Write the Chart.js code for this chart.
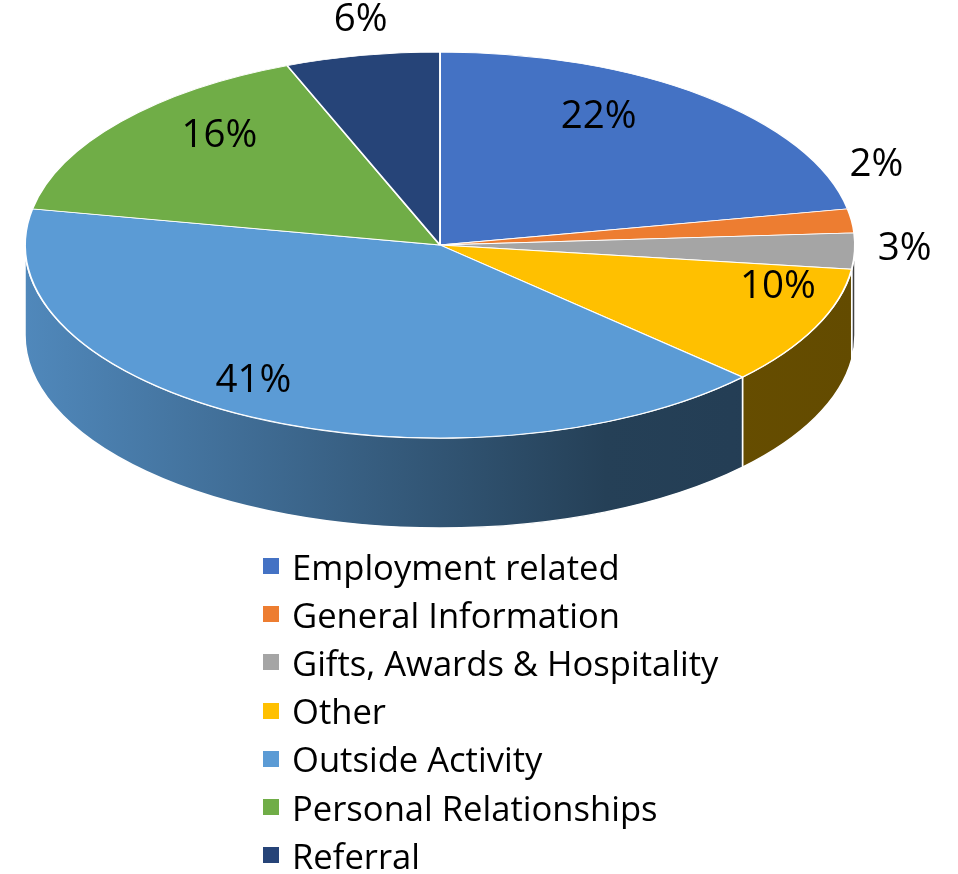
<!DOCTYPE html>
<html>
<head>
<meta charset="utf-8">
<script src="https://cdn.jsdelivr.net/npm/chart.js@4/dist/chart.umd.min.js"></script>
<style>
  html, body { margin: 0; padding: 0; background: #fff; }
  #wrap { position: relative; width: 958px; height: 874px; overflow: hidden; }
  #ch_pie { position: absolute; left: 0; top: 0; }
  #legend { position: absolute; left: 263px; top: 542px; }
  .item { display: flex; align-items: center; height: 48.2px; font: 34.6px 'Open Sans', sans-serif; color: #000; white-space: nowrap; }
  .box { width: 16px; height: 16px; margin-right: 13px; flex: none; }
</style>
</head>
<body>
<div id="wrap">
  <canvas id="ch_pie" width="958" height="874"></canvas>
  <div id="legend"></div>
</div>
<script>
/* data */
const labels = ['Employment related', 'General Information', 'Gifts, Awards & Hospitality', 'Other',
                'Outside Activity', 'Personal Relationships', 'Referral'];
const shares = [22, 2, 3, 10, 41, 16, 6];
const colors = ['#4472C4', '#ED7D31', '#A5A5A5', '#FFC000', '#5B9BD5', '#70AD47', '#264478'];

/* label placement (radius factor along the slice middle, vertical lift in px) */
const labelRadius = [0.6, 1.06, 1.12, 0.9, 0.99, 0.69, 1.02];
const labelLift   = [-39, -54, -3, -32, -34, -24, -32];

/* tilted-pie geometry */
const CX = 440, CY = 245, RX = 415, RY = 193, DEPTH = 90;

function shade(hex, k) {
  const n = parseInt(hex.slice(1), 16);
  const r = Math.round(((n >> 16) & 255) * k);
  const g = Math.round(((n >> 8) & 255) * k);
  const b = Math.round((n & 255) * k);
  return `rgb(${r},${g},${b})`;
}

// draws the extruded side, then squashes the library's own arcs into an ellipse
const pie3d = {
  id: 'pie3d',
  beforeDatasetsDraw(chart) {
    const ctx = chart.ctx;
    const arcs = chart.getDatasetMeta(0).data;
    arcs.forEach((arc, i) => {
      const a0 = Math.max(arc.startAngle, 0), a1 = Math.min(arc.endAngle, Math.PI);
      if (a1 <= a0) return;
      const g = ctx.createLinearGradient(CX - RX, 0, CX + RX, 0);
      g.addColorStop(0, shade(colors[i], 0.88));
      g.addColorStop(0.7, shade(colors[i], 0.41));
      g.addColorStop(1, shade(colors[i], 0.39));
      ctx.beginPath();
      ctx.ellipse(CX, CY, RX, RY, 0, a0, a1);
      ctx.ellipse(CX, CY + DEPTH, RX, RY, 0, a1, a0, true);
      ctx.closePath();
      ctx.fillStyle = g;
      ctx.fill();
      ctx.strokeStyle = '#fff';
      ctx.lineWidth = 1.5;
      ctx.stroke();
    });
    const a = arcs[0];
    ctx.save();
    ctx.translate(CX, CY);
    ctx.scale(RX / a.outerRadius, RY / a.outerRadius);
    ctx.translate(-a.x, -a.y);
  },
  afterDatasetsDraw(chart) {
    const ctx = chart.ctx;
    ctx.restore();
    const arcs = chart.getDatasetMeta(0).data;
    const total = shares.reduce((s, v) => s + v, 0);
    ctx.save();
    ctx.font = '38.5px "Open Sans", sans-serif';
    ctx.fillStyle = '#000';
    ctx.textAlign = 'center';
    ctx.textBaseline = 'middle';
    arcs.forEach((arc, i) => {
      const mid = (arc.startAngle + arc.endAngle) / 2;
      const x = CX + RX * labelRadius[i] * Math.cos(mid);
      const y = CY + RY * labelRadius[i] * Math.sin(mid) + labelLift[i];
      ctx.fillText(Math.round(shares[i] / total * 100) + '%', x, y);
    });
    ctx.restore();
  }
};

new Chart(document.getElementById('ch_pie').getContext('2d'), {
  type: 'pie',
  data: {
    labels: labels,
    datasets: [{
      data: shares,
      backgroundColor: colors,
      borderColor: '#fff',
      borderWidth: 2,
      hoverOffset: 0,
      clip: false
    }]
  },
  options: {
    responsive: false,
    animation: false,
    events: [],
    plugins: {
      legend: { display: false },
      tooltip: { enabled: false }
    }
  },
  plugins: [pie3d]
});

// legend
const legend = document.getElementById('legend');
labels.forEach((l, i) => {
  const row = document.createElement('div');
  row.className = 'item';
  const box = document.createElement('span');
  box.className = 'box';
  box.style.background = colors[i];
  const txt = document.createElement('span');
  txt.textContent = l;
  row.appendChild(box);
  row.appendChild(txt);
  legend.appendChild(row);
});
</script>
</body>
</html>
